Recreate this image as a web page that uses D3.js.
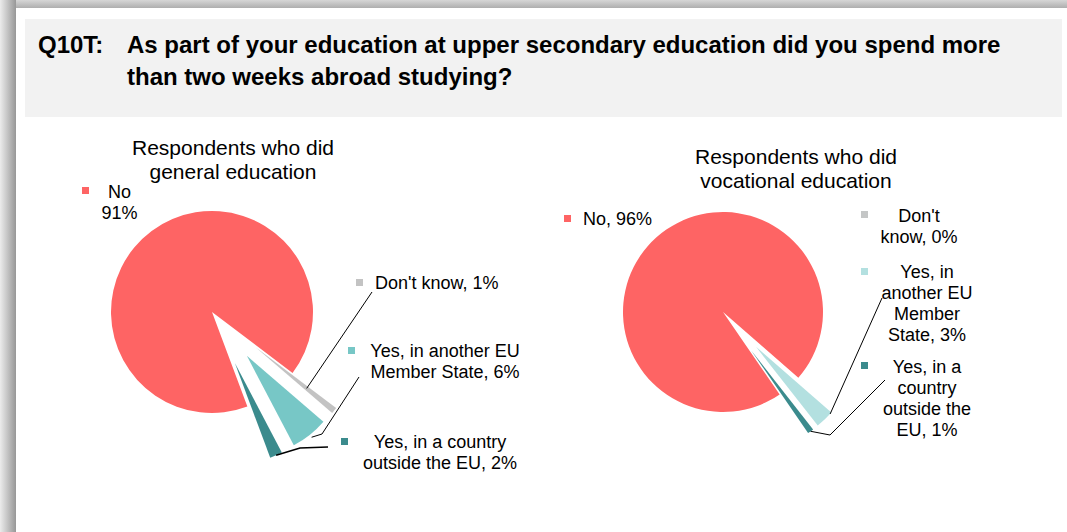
<!DOCTYPE html>
<html>
<head>
<meta charset="utf-8">
<script src="https://cdn.jsdelivr.net/npm/d3@7"></script>
<style>
	body { margin: 0; background: #fff; }
	svg text { font-family: "Liberation Sans", Arial, sans-serif; fill: #000; }
</style>
</head>
<body>
<svg class="chart" width="1067" height="532"></svg>
<script>
// data
var categories = ["No", "Don't know", "Yes, in another EU Member State", "Yes, in a country outside the EU"];
var generalValues = [91, 1, 6, 2];
var vocationalValues = [96, 0, 3, 1];
var generalLabels = [["No", "91%"], ["Don't know, 1%"], ["Yes, in another EU", "Member State, 6%"], ["Yes, in a country", "outside the EU, 2%"]];
var vocationalLabels = [["No, 96%"], ["Don't", "know, 0%"], ["Yes, in", "another EU", "Member", "State, 3%"], ["Yes, in a", "country", "outside the", "EU, 1%"]];
var titleLines = ["As part of your education at upper secondary education did you spend more", "than two weeks abroad studying?"];

var chart = d3.select('.chart');
var defs = chart.append('defs');

var gl = defs.append('linearGradient').attr('id', 'shadeLeft').attr('x1', 0).attr('x2', 1).attr('y1', 0).attr('y2', 0);
gl.append('stop').attr('offset', '0%').attr('stop-color', '#ececec');
gl.append('stop').attr('offset', '100%').attr('stop-color', '#979797');
var gt = defs.append('linearGradient').attr('id', 'shadeTop').attr('x1', 0).attr('x2', 0).attr('y1', 0).attr('y2', 1);
gt.append('stop').attr('offset', '0%').attr('stop-color', '#d6d6d6');
gt.append('stop').attr('offset', '100%').attr('stop-color', '#a9a9a9');

// frame
chart.append('rect').attr('x', 0).attr('y', 0).attr('width', 1067).attr('height', 9).attr('fill', 'url(#shadeTop)');
chart.append('rect').attr('x', 0).attr('y', 0).attr('width', 16).attr('height', 532).attr('fill', 'url(#shadeLeft)');
chart.append('rect').attr('x', 16).attr('y', 8).attr('width', 1051).attr('height', 524).attr('fill', '#fff');

// title box
chart.append('rect').attr('x', 25).attr('y', 19).attr('width', 1037).attr('height', 98).attr('fill', '#f2f2f2');
chart.append('text').attr('x', 38).attr('y', 53)
	.attr('font-size', '24px').attr('font-weight', 'bold').text('Q10T:');
chart.append('g').selectAll('text')
	.data(titleLines)
	.enter()
	.append('text')
	.attr('x', 127)
	.attr('y', function(d, i){ return 53 + i * 32; })
	.attr('font-size', '24px').attr('font-weight', 'bold')
	.text(function(d){ return d; });

var pies = [
	{values: generalValues, labels: generalLabels, cx: 212, cy: 312, r: 101, start: 159.5, explode: 56,
	 subtitle: ["Respondents who did", "general education"], subX: 233, subY: 155,
	 colors: ['#fe6464', '#c3c3c3', '#77c7c6', '#3b8b8d'],
	 labelPos: [{x: 119.5, y: 198, mx: 82, my: 187}, {x: 375, y: 289, mx: 356, my: 279, anchor: 'start'},
	            {x: 445, y: 357, mx: 348, my: 347}, {x: 440, y: 448, mx: 341, my: 438}],
	 leaders: [null, {t: 0.5, rr: 0.65, pts: [[372, 292]]},
	           {t: 0.5, rr: 1.03, pts: [[322, 434], [359, 377]]},
	           {t: 0.5, rr: 1.0, w: 1.6, pts: [[300, 448], [328, 447]]}]},
	{values: vocationalValues, labels: vocationalLabels, cx: 723, cy: 312, r: 100, start: 145.5, explode: 48,
	 subtitle: ["Respondents who did", "vocational education"], subX: 796, subY: 164,
	 colors: ['#fe6464', '#c4c6c6', '#b3e0e0', '#3b8b8d'],
	 labelPos: [{x: 583, y: 225, mx: 564, my: 215, anchor: 'start'}, {x: 919, y: 222, mx: 861, my: 211},
	            {x: 927, y: 278, mx: 861, my: 268}, {x: 927, y: 373, mx: 861, my: 362}],
	 leaders: [null, null,
	           {t: 0.1, rr: 1.0, pts: [[882, 298]]},
	           {t: 0.5, rr: 1.0, pts: [[830, 435], [885, 380]]}]}
];

pies.forEach(function(p){
	var rad = Math.PI / 180;
	var pie = d3.pie().sort(null).value(function(d){ return d; })
		.startAngle(p.start * rad).endAngle(p.start * rad + 2 * Math.PI);
	var arcs = pie(p.values);
	var arc = d3.arc().innerRadius(0).outerRadius(p.r);

	var g = chart.append('g').attr('transform', 'translate(' + p.cx + ',' + p.cy + ')');

	function shift(d, i){
		if(i === 0) return [0, 0];
		var mid = (d.startAngle + d.endAngle) / 2;
		return [Math.sin(mid) * p.explode, -Math.cos(mid) * p.explode];
	}

	g.selectAll('path')
		.data(arcs)
		.enter()
		.append('path')
		.attr('d', arc)
		.attr('fill', function(d, i){ return p.colors[i]; })
		.attr('transform', function(d, i){ var s = shift(d, i); return 'translate(' + s[0] + ',' + s[1] + ')'; });

	// leader lines
	arcs.forEach(function(d, i){
		var L = p.leaders[i];
		if(!L) return;
		var s = shift(d, i);
		var a = d.startAngle + (d.endAngle - d.startAngle) * L.t;
		var x0 = p.cx + s[0] + Math.sin(a) * p.r * L.rr;
		var y0 = p.cy + s[1] - Math.cos(a) * p.r * L.rr;
		chart.append('path')
			.attr('d', d3.line()([[x0, y0]].concat(L.pts)))
			.attr('fill', 'none')
			.attr('stroke', '#000')
			.attr('stroke-width', L.w || 1);
	});

	// subtitle
	chart.append('g').selectAll('text')
		.data(p.subtitle)
		.enter()
		.append('text')
		.attr('x', p.subX)
		.attr('y', function(d, i){ return p.subY + i * 24; })
		.attr('text-anchor', 'middle')
		.attr('font-size', '21px')
		.text(function(d){ return d; });

	// labels with legend keys
	p.labels.forEach(function(lines, i){
		var pos = p.labelPos[i];
		chart.append('rect')
			.attr('x', pos.mx).attr('y', pos.my)
			.attr('width', 7).attr('height', 7)
			.attr('fill', p.colors[i]);
		chart.append('g').selectAll('text')
			.data(lines)
			.enter()
			.append('text')
			.attr('x', pos.x)
			.attr('y', function(d, j){ return pos.y + j * 21; })
			.attr('text-anchor', pos.anchor || 'middle')
			.attr('font-size', '18px')
			.text(function(d){ return d; });
	});
});
</script>
</body>
</html>
